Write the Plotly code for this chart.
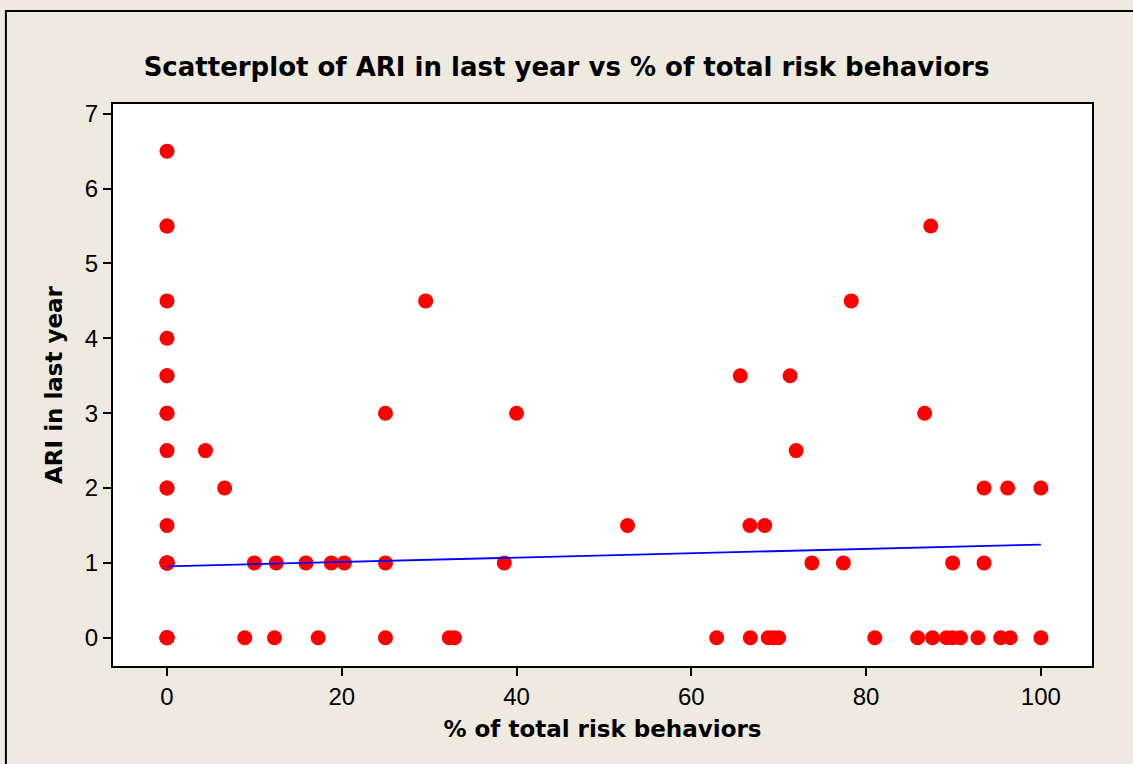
import plotly.graph_objects as go

# % of total risk behaviors (x) and ARI in last year (y)
pct_risk = [0, 0, 0, 0, 0, 0, 0, 0, 0, 0, 0, 0, 0, 0, 0, 0, 0, 0, 0, 0, 0, 0,
            4.4, 6.6, 8.9, 10.0, 12.3, 12.5, 15.9, 17.3, 18.8, 20.3,
            25, 25, 25, 29.6, 32.3, 32.9, 38.6, 40, 52.7,
            62.9, 65.6, 66.7, 66.75, 68.4, 68.8, 69.4, 70.0, 71.3, 72.0,
            73.8, 77.4, 78.3, 81.0, 85.9, 86.7, 87.4, 87.6, 89.2, 89.9,
            89.9, 90.8, 92.8, 93.5, 93.5, 95.4, 96.2, 96.5, 100, 100]
ari_year = [6.5, 5.5, 5.5, 4.5, 4, 3.5, 3.5, 3, 3, 2.5, 2, 2, 1.5, 1, 1, 1, 1, 1, 0, 0, 0, 0,
            2.5, 2, 0, 1, 0, 1, 1, 0, 1, 1,
            3, 1, 0, 4.5, 0, 0, 1, 3, 1.5,
            0, 3.5, 1.5, 0, 1.5, 0, 0, 0, 3.5, 2.5,
            1, 1, 4.5, 0, 0, 3, 5.5, 0, 0, 0,
            1, 0, 0, 2, 1, 0, 2, 0, 2, 0]

# fitted regression line
fit_intercept = 0.955
fit_slope = 0.0029
fit_x = [0, 100]
fit_y = [fit_intercept + fit_slope * v for v in fit_x]

x_ticks = [0, 20, 40, 60, 80, 100]
y_ticks = [0, 1, 2, 3, 4, 5, 6, 7]

BG = "#EEEAE0"

fig = go.Figure()
fig.add_trace(go.Scatter(
    x=pct_risk, y=ari_year, mode="markers",
    marker=dict(color="#FF0000", size=15, line=dict(width=0)),
    showlegend=False, hoverinfo="x+y"))
fig.add_trace(go.Scatter(
    x=fit_x, y=fit_y, mode="lines",
    line=dict(color="#0000FF", width=1.8),
    showlegend=False))

axis_common = dict(
    showgrid=False, zeroline=False, showline=True, linecolor="black", linewidth=2,
    mirror=True, ticks="outside", ticklen=8, tickwidth=1.5, tickcolor="black",
    tickfont=dict(family="Liberation Sans", size=24, color="black"),
)

fig.update_xaxes(range=[-6.18, 105.85], tickvals=x_ticks,
                 title=dict(text="<b>% of total risk behaviors</b>",
                            font=dict(family="DejaVu Sans", size=23, color="black"),
                            standoff=12),
                 **axis_common)
fig.update_yaxes(range=[-0.377, 7.13], tickvals=y_ticks,
                 title=dict(text="<b>ARI in last year</b>",
                            font=dict(family="DejaVu Sans", size=23, color="black"),
                            standoff=16),
                 **axis_common)

fig.update_layout(
    width=1133, height=764,
    paper_bgcolor=BG, plot_bgcolor="white",
    margin=dict(l=113, r=41, t=104, b=98),
    title=dict(text="<b>Scatterplot of ARI in last year vs % of total risk behaviors</b>",
               x=0.5, xanchor="center", y=0.912, yanchor="middle",
               font=dict(family="DejaVu Sans", size=26, color="black")),
    shapes=[dict(type="path", xref="paper", yref="paper",
                 path="M -0.1094,-0.25 L -0.1094,1.1656 L 1.1,1.1656",
                 line=dict(color="black", width=2))],
)

fig.write_html("out.html")
